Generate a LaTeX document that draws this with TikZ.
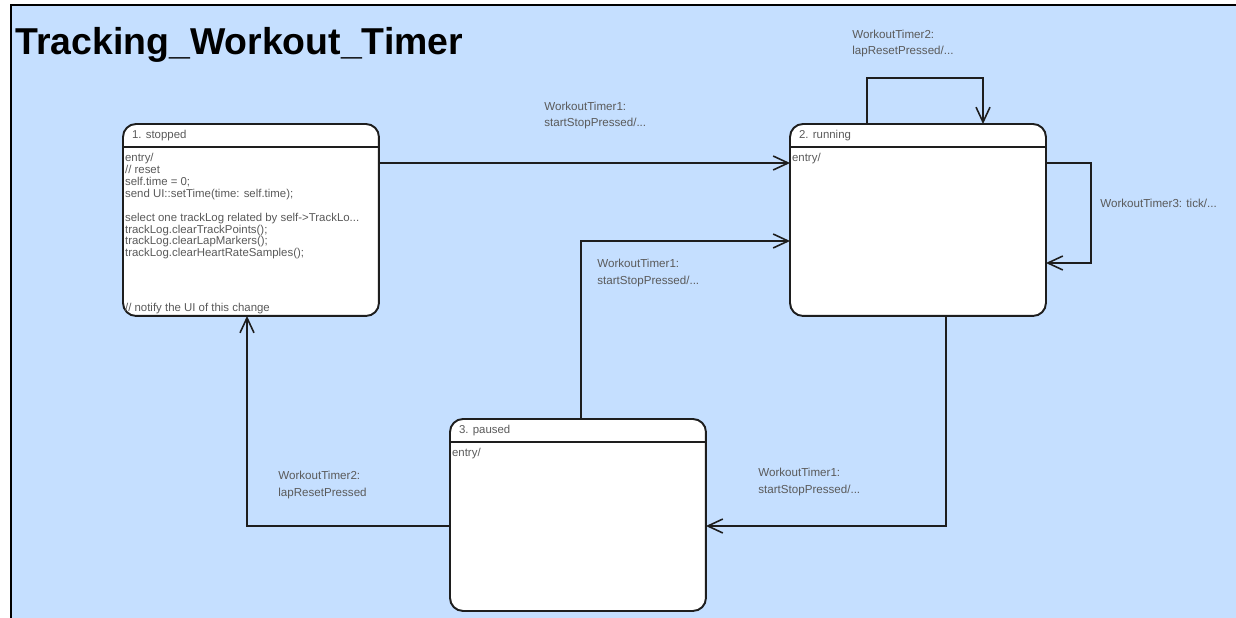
\documentclass[tikz,border=0pt]{standalone}
\usepackage{fontspec}
\setmainfont{Liberation Sans}
\usetikzlibrary{arrows.meta,calc}
\definecolor{fondo}{HTML}{C5DFFF}
\definecolor{texto}{HTML}{5A5A5A}
\definecolor{linea}{HTML}{1E1E1E}

\begin{document}
\begin{tikzpicture}[x=0.02cm,y=-0.02cm]
% estilos de linea, relleno y texto
\tikzstyle{estado} = [draw=linea,line width=1.1pt,fill=white,rounded corners=0.26cm,outer sep=0pt,inner sep=0pt,minimum width=5.12cm,minimum height=3.84cm,anchor=north west]
\tikzstyle{trans} = [draw=linea,line width=0.9pt,-{Straight Barb[length=0.3cm,width=0.28cm]}]
\tikzstyle{rotulo} = [text=texto,font=\fontsize{6.6}{9.6}\selectfont,align=left,anchor=base west,inner sep=0pt]
\tikzstyle{cuerpo} = [text=texto,font=\fontsize{6.5}{6.75}\selectfont,align=left,inner sep=1pt]
% definicion de estado
% #1: nombre del nodo
% #2: esquina superior izquierda
% #3: rotulo del estado
% #4: acciones del estado
\newcommand{\estado}[4]{
\node [estado] (#1) at #2 {};
\draw [line width=1.1pt,draw=linea] ([yshift=-0.46cm]#1.north west) -- ([yshift=-0.46cm]#1.north east);
\node [cuerpo,anchor=west] (#1-tit) at ([xshift=0.14cm,yshift=-0.23cm]#1.north west) {#3};
\node [cuerpo,anchor=north west] (#1-acc) at ([yshift=-0.55cm]#1.north west) {#4};
 }
% --------------------------------------
% marco y fondo
\useasboundingbox (0,0) rectangle (1236,618);
\fill [fondo] (11,5) rectangle (1236,618);
\draw [line width=1.6pt] (11,618) -- (11,5) -- (1236,5);
\node [anchor=base west,inner sep=0pt,font=\bfseries\fontsize{21.3}{25}\selectfont] (titulo) at (15,55) {Tracking\_Workout\_Timer};
% --------------------------------------
% dibujar estados
\estado{stopped}{(123,124)}{1. stopped}{entry/\\
// reset\\
self.time = 0;\\
send UI::setTime(time: self.time);\\[6.75pt]
select one trackLog related by self->TrackLo...\\
trackLog.clearTrackPoints();\\
trackLog.clearLapMarkers();\\
trackLog.clearHeartRateSamples();\\[24.4pt]
// notify the UI of this change}
\estado{running}{(790,124)}{2. running}{entry/}
\estado{paused}{(450,419)}{3. paused}{entry/}
% --------------------------------------
% dibujar transiciones
\draw [trans] ($(stopped.north east)+(0,39)$) -- ($(running.north west)+(0,39)$);
\draw [trans] ($(running.north west)+(77,0)$) -- ++(0,-46) -| ($(running.north west)+(193,0)$);
\draw [trans] ($(running.north east)+(0,39)$) -- ++(45,0) |- ($(running.north east)+(0,139)$);
\draw [trans] ($(paused.north west)+(131,0)$) |- ($(running.north west)+(0,117)$);
\draw [trans] ($(running.south west)+(156,0)$) |- ($(paused.north east)+(0,107)$);
\draw [trans] ($(paused.north west)+(0,107)$) -| ($(stopped.south west)+(124,0)$);
% rotulos de las transiciones (base de la ultima linea)
\node [rotulo] (r-iniciar) at (544,127) {WorkoutTimer1:\\startStopPressed/...};
\node [rotulo] (r-vuelta) at (852,55) {WorkoutTimer2:\\lapResetPressed/...};
\node [rotulo] (r-tick) at (1100,208) {WorkoutTimer3: tick/...};
\node [rotulo] (r-reanudar) at (597,284) {WorkoutTimer1:\\startStopPressed/...};
\node [rotulo] (r-pausar) at (758,493) {WorkoutTimer1:\\startStopPressed/...};
\node [rotulo] (r-reiniciar) at (278,496) {WorkoutTimer2:\\lapResetPressed};
% --------------------------------------
\end{tikzpicture}
\end{document}
